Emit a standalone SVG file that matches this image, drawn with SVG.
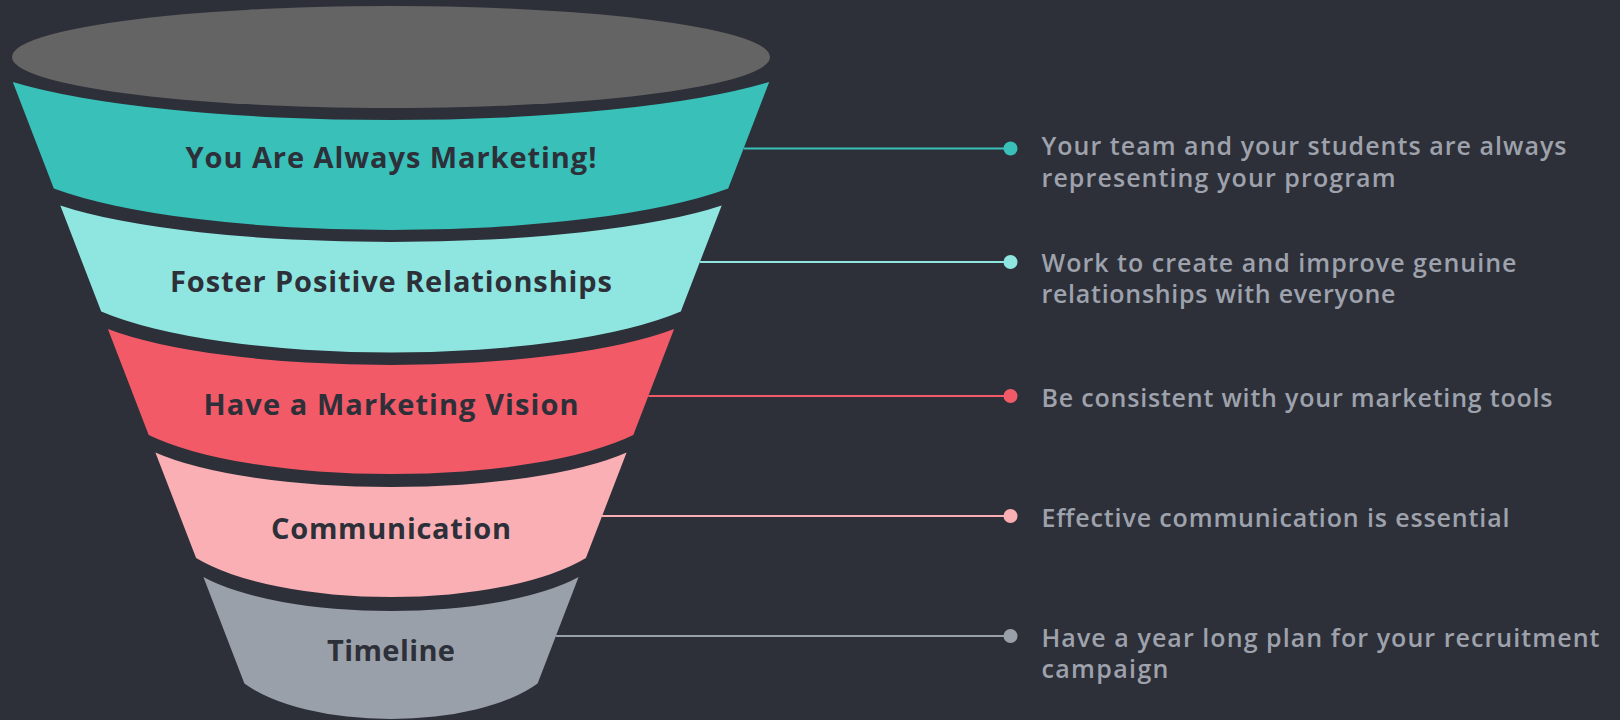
<svg xmlns="http://www.w3.org/2000/svg" width="1620" height="720" viewBox="0 0 1620 720">
  <style>
    .label { font-family: "Open Sans", "Liberation Sans", sans-serif; font-weight: 700; font-size: 29px; fill: #2d3039; text-anchor: middle; }
    .note { font-family: "Open Sans", "Liberation Sans", sans-serif; font-weight: 600; font-size: 25px; fill: #9ea2ac; }
    .conn { stroke-width: 2; fill: none; }
  </style>
  <rect width="1620" height="720" fill="#2d3039"/>

  <!-- funnel mouth -->
  <g id="funnel-top">
    <ellipse cx="391" cy="57" rx="379" ry="51" fill="#646464"/>
  </g>

  <!-- funnel layers, each a frustum slice with curved top and bottom -->
  <g id="layer-1">
    <path d="M12.8,82 A434.9,75.1 0 0 0 769.2,82 L728.2,188.5 A387.8,82 0 0 1 53.8,188.5 Z" fill="#38c0b9"/>
    <text class="label" x="391" y="168" textLength="411">You Are Always Marketing!</text>
  </g>
  <g id="layer-2">
    <path d="M60.3,205.5 A380.3,72.1 0 0 0 721.7,205.5 L680.8,311.5 A333.3,81 0 0 1 101.2,311.5 Z" fill="#8fe6e1"/>
    <text class="label" x="391" y="291.5" textLength="442">Foster Positive Relationships</text>
  </g>
  <g id="layer-3">
    <path d="M107.9,329 A325.6,71.1 0 0 0 674.1,329 L633.3,435 A278.6,77.1 0 0 1 148.7,435 Z" fill="#f25a68"/>
    <text class="label" x="391" y="415" textLength="375">Have a Marketing Vision</text>
  </g>
  <g id="layer-4">
    <path d="M155.4,452.5 A270.9,68.2 0 0 0 626.6,452.5 L585.9,558 A224.1,77.1 0 0 1 196.1,558 Z" fill="#f9afb4"/>
    <text class="label" x="391" y="539" textLength="240">Communication</text>
  </g>
  <g id="layer-5">
    <path d="M203.4,577 A215.7,67.2 0 0 0 578.6,577 L537.6,683.5 A168.6,70.2 0 0 1 244.4,683.5 Z" fill="#9aa0aa"/>
    <text class="label" x="391" y="661" textLength="128">Timeline</text>
  </g>

  <!-- leader lines from each layer to its note -->
  <g id="connectors">
    <line class="conn" x1="743.6" y1="148.5" x2="1010.5" y2="148.5" stroke="#38c0b9"/>
    <circle cx="1010.5" cy="148.5" r="7" fill="#38c0b9"/>
    <line class="conn" x1="700" y1="262" x2="1010.5" y2="262" stroke="#8fe6e1"/>
    <circle cx="1010.5" cy="262" r="7" fill="#8fe6e1"/>
    <line class="conn" x1="648.3" y1="396" x2="1010.5" y2="396" stroke="#f25a68"/>
    <circle cx="1010.5" cy="396" r="7" fill="#f25a68"/>
    <line class="conn" x1="602" y1="516" x2="1010.5" y2="516" stroke="#f9afb4"/>
    <circle cx="1010.5" cy="516" r="7" fill="#f9afb4"/>
    <line class="conn" x1="556" y1="636" x2="1010.5" y2="636" stroke="#9aa0aa"/>
    <circle cx="1010.5" cy="636" r="7" fill="#9aa0aa"/>
  </g>

  <!-- notes -->
  <g id="note-1">
    <text class="note" x="1041.5" y="155" textLength="525">Your team and your students are always</text>
    <text class="note" x="1041.5" y="186.7" textLength="354">representing your program</text>
  </g>
  <g id="note-2">
    <text class="note" x="1041.5" y="271.7" textLength="475">Work to create and improve genuine</text>
    <text class="note" x="1041.5" y="303.3" textLength="354">relationships with everyone</text>
  </g>
  <g id="note-3">
    <text class="note" x="1041.5" y="406.7" textLength="511">Be consistent with your marketing tools</text>
  </g>
  <g id="note-4">
    <text class="note" x="1041.5" y="526.7" textLength="468">Effective communication is essential</text>
  </g>
  <g id="note-5">
    <text class="note" x="1041.5" y="646.7" textLength="558">Have a year long plan for your recruitment</text>
    <text class="note" x="1041.5" y="678.3" textLength="127">campaign</text>
  </g>
</svg>
